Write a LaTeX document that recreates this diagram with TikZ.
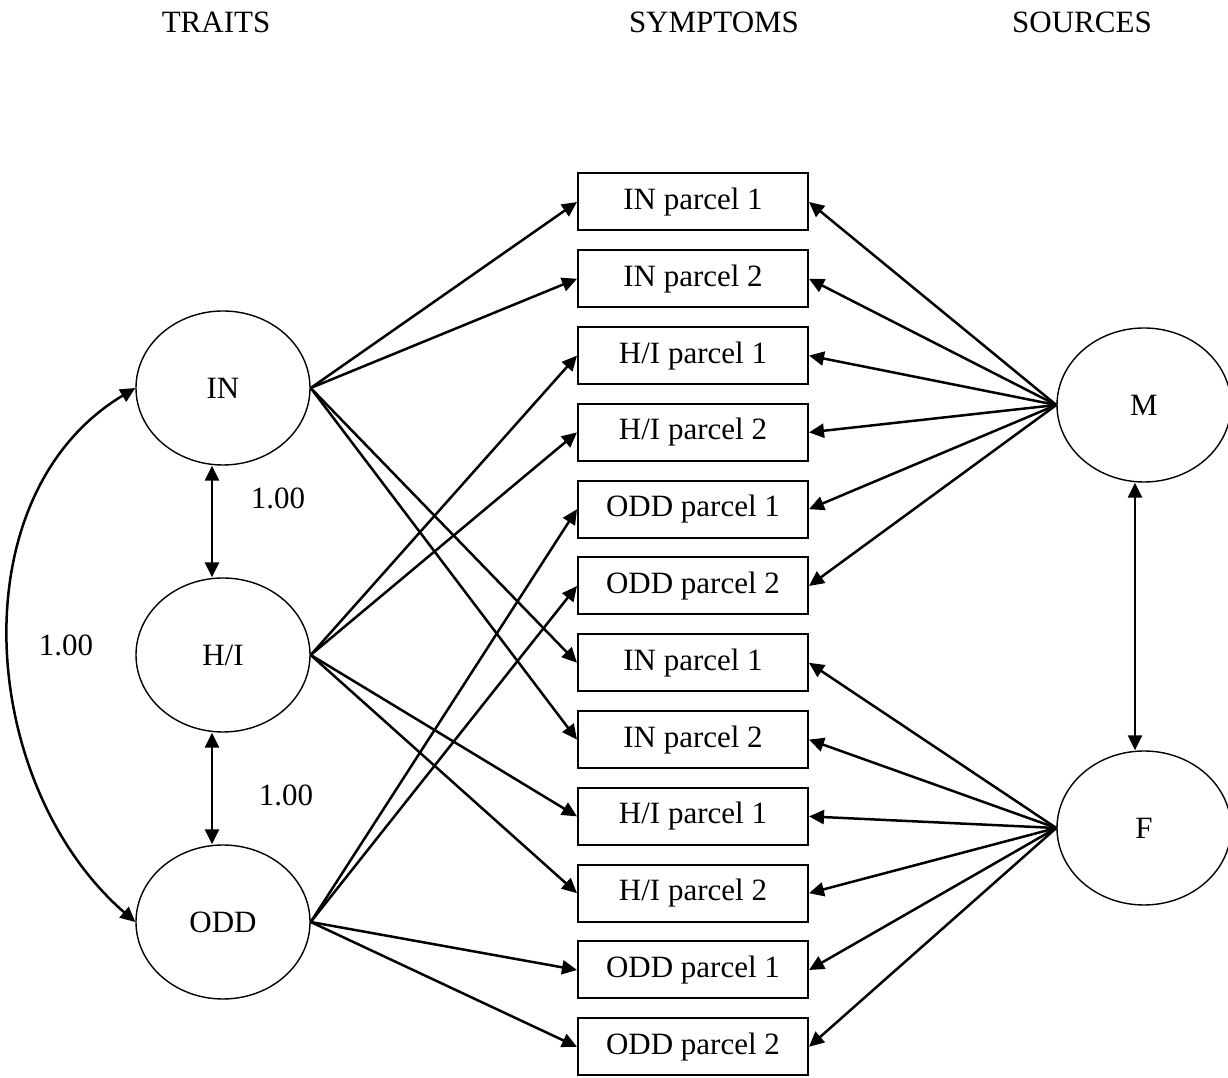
\documentclass[tikz,border=0pt]{standalone}
\usepackage{fontspec}
\setmainfont{Liberation Serif}
\usetikzlibrary{arrows.meta}
\usetikzlibrary{shapes.geometric}

\begin{document}
\begin{tikzpicture}[x=1pt, y=1pt,
		lt/.style = {ellipse, draw, line width=1.4pt, minimum width=174pt, minimum height=154pt, inner sep=0pt},
		pc/.style = {rectangle, draw, line width=2pt, minimum width=230pt, minimum height=57pt, inner sep=0pt},
		r/.style = {-{Triangle[length=15pt, width=14pt]}, line width=2.5pt},
		rr/.style = {{Triangle[length=15pt, width=14pt]}-{Triangle[length=15pt, width=14pt]}, line width=2.5pt},
		font=\fontsize{31}{36}\selectfont
		]
		\useasboundingbox (0, 0) rectangle (1228, 1078);
		
		%Headers
		\node	(htr)	at	(216, 1056)		{TRAITS};
		\node	(hsy)	at	(714, 1056)		{SYMPTOMS};
		\node	(hso)	at	(1082, 1056)	{SOURCES};
		
		%Traits
		\node[lt]	(IN)	at	(223, 690)		{IN};
		\node[lt]	(HI)	at	(223, 423)		{H/I};
		\node[lt]	(ODD)	at	(223, 156)		{ODD};
		
		%Sources
		\node[lt]	(M)		at	(1144, 673)		{M};
		\node[lt]	(F)		at	(1144, 250)		{F};
		
		%Parcels
		\node[pc]	(p1)	at	(693, 876)		{IN parcel 1};
		\node[pc]	(p2)	at	(693, 799.2)	{IN parcel 2};
		\node[pc]	(p3)	at	(693, 722.4)	{H/I parcel 1};
		\node[pc]	(p4)	at	(693, 645.6)	{H/I parcel 2};
		\node[pc]	(p5)	at	(693, 568.8)	{ODD parcel 1};
		\node[pc]	(p6)	at	(693, 492)		{ODD parcel 2};
		\node[pc]	(p7)	at	(693, 415.2)	{IN parcel 1};
		\node[pc]	(p8)	at	(693, 338.4)	{IN parcel 2};
		\node[pc]	(p9)	at	(693, 261.6)	{H/I parcel 1};
		\node[pc]	(p10)	at	(693, 184.8)	{H/I parcel 2};
		\node[pc]	(p11)	at	(693, 108)		{ODD parcel 1};
		\node[pc]	(p12)	at	(693, 31.2)		{ODD parcel 2};
		
		%Labels
		\node	(c1)	at	(278, 580)		{1.00};
		\node	(c2)	at	(286, 283)		{1.00};
		\node	(c3)	at	(66, 433)		{1.00};
		
		%Trait loadings
		\draw[r]	(IN.east)	--	(p1.west);
		\draw[r]	(IN.east)	--	(p2.west);
		\draw[r]	(IN.east)	--	(p7.west);
		\draw[r]	(IN.east)	--	(p8.west);
		\draw[r]	(HI.east)	--	(p3.west);
		\draw[r]	(HI.east)	--	(p4.west);
		\draw[r]	(HI.east)	--	(p9.west);
		\draw[r]	(HI.east)	--	(p10.west);
		\draw[r]	(ODD.east)	--	(p5.west);
		\draw[r]	(ODD.east)	--	(p6.west);
		\draw[r]	(ODD.east)	--	(p11.west);
		\draw[r]	(ODD.east)	--	(p12.west);
		
		%Source loadings
		\draw[r]	(M.west)	--	(p1.east);
		\draw[r]	(M.west)	--	(p2.east);
		\draw[r]	(M.west)	--	(p3.east);
		\draw[r]	(M.west)	--	(p4.east);
		\draw[r]	(M.west)	--	(p5.east);
		\draw[r]	(M.west)	--	(p6.east);
		\draw[r]	(F.west)	--	(p7.east);
		\draw[r]	(F.west)	--	(p8.east);
		\draw[r]	(F.west)	--	(p9.east);
		\draw[r]	(F.west)	--	(p10.east);
		\draw[r]	(F.west)	--	(p11.east);
		\draw[r]	(F.west)	--	(p12.east);
		
		%Correlations
		\draw[rr]	([xshift=-11pt]IN.south)	--	([xshift=-11pt]HI.north);
		\draw[rr]	([xshift=-11pt]HI.south)	--	([xshift=-11pt]ODD.north);
		\draw[rr]	([xshift=-9pt]M.south)		--	([xshift=-9pt]F.north);
		\draw[rr]	(IN.west)	to[out=211, in=139]	(ODD.west);
	\end{tikzpicture}
\end{document}
